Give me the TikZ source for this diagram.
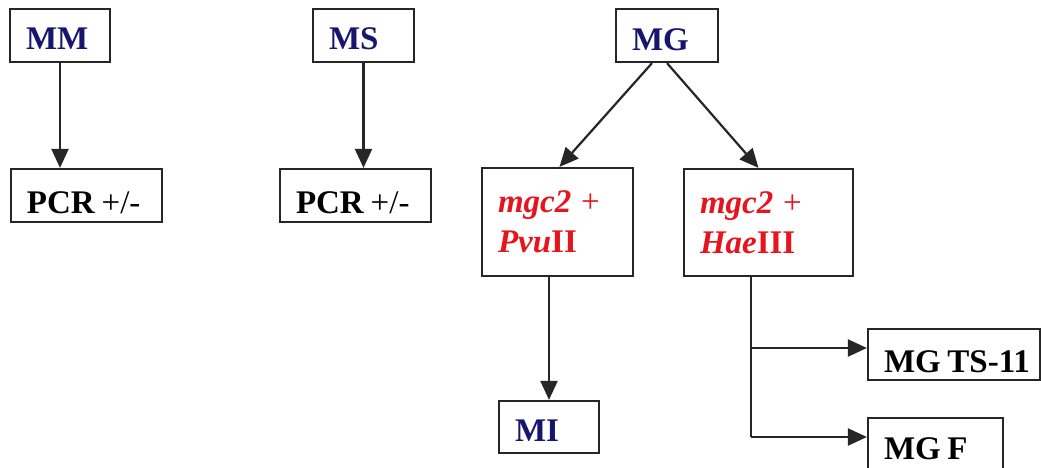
\documentclass[tikz,border=0pt]{standalone}
\usepackage{fontspec}
\setmainfont{Liberation Serif}
\usetikzlibrary{arrows.meta,calc}
\definecolor{navy}{RGB}{22,22,110}
\definecolor{redt}{RGB}{230,20,28}
\newcommand{\wsp}{\hspace{0.2em}}
\begin{document}
\begin{tikzpicture}[x=1pt,y=-1pt,
  box/.style 2 args={draw=black!85, line width=2.2pt, fill=white, inner xsep=16pt, inner ysep=0pt,
    minimum width=#1pt, minimum height=#2pt, text width=#1pt-32pt, align=left,
    font=\fontsize{33}{40}\selectfont},
  oneline/.style={text height=#1pt, text depth=0pt},
  conn/.style={line width=2.2pt, draw=black!85},
  arr/.style={conn, -{Triangle[length=19pt,width=17pt]}}]
\useasboundingbox (0,0) rectangle (1041,468);
\clip (0,0) rectangle (1041,468);
\node[box={100}{53}, oneline=29] (mm) at (60,35.5) {\textcolor{navy}{\bfseries MM}};
\node[box={151}{53}, oneline=36] (pcr1) at (86.5,195.5) {\textbf{PCR}\wsp+/-};
\node[box={101}{53}, oneline=29] (ms) at (363.5,35.5) {\textcolor{navy}{\bfseries MS}};
\node[box={151}{53}, oneline=36] (pcr2) at (355.5,195.5) {\textbf{PCR}\wsp+/-};
\node[box={102}{53}, oneline=30] (mg) at (667,35.5) {\textcolor{navy}{\bfseries MG}};
\node[box={151}{108}] (pvu) at (557.5,222) {\color{redt}\textbf{\textit{mgc2}}\hspace{0.3em}+\\\textbf{\textit{Pvu}II}};
\node[box={169}{107}] (hae) at (768.5,222.5) {\color{redt}\textbf{\textit{mgc2}}\hspace{0.3em}+\\\textbf{\textit{Hae}III}};
\node[box={100}{52}, oneline=29] (mi) at (549,427) {\textcolor{navy}{\bfseries MI}};
\node[box={172}{51}, oneline=36] (ts) at (954,354.5) {\mbox{\textbf{MG\wsp TS-11}}};
\node[box={135}{62}, oneline=21] (mgf) at (935.5,449) {\textbf{MG\wsp F}};
\coordinate (hb) at (751,276);
\coordinate (j1) at (751,348);
\coordinate (j2) at (751,437);
\draw[arr] (mm.south) -- (mm.south |- pcr1.north);
\draw[arr] (ms.south) -- (ms.south |- pcr2.north);
\draw[arr] ($(mg.south)+(-15,0)$) -- ($(pvu.north)+(2,0)$);
\draw[arr] (mg.south) -- ($(hae.north)+(-10,0)$);
\draw[arr] (mi.north |- pvu.south) -- (mi.north);
\draw[conn] (hb) -- (j2);
\draw[arr] (j1) -- (j1 -| ts.west);
\draw[arr] (j2) -- (j2 -| mgf.west);
\end{tikzpicture}
\end{document}
